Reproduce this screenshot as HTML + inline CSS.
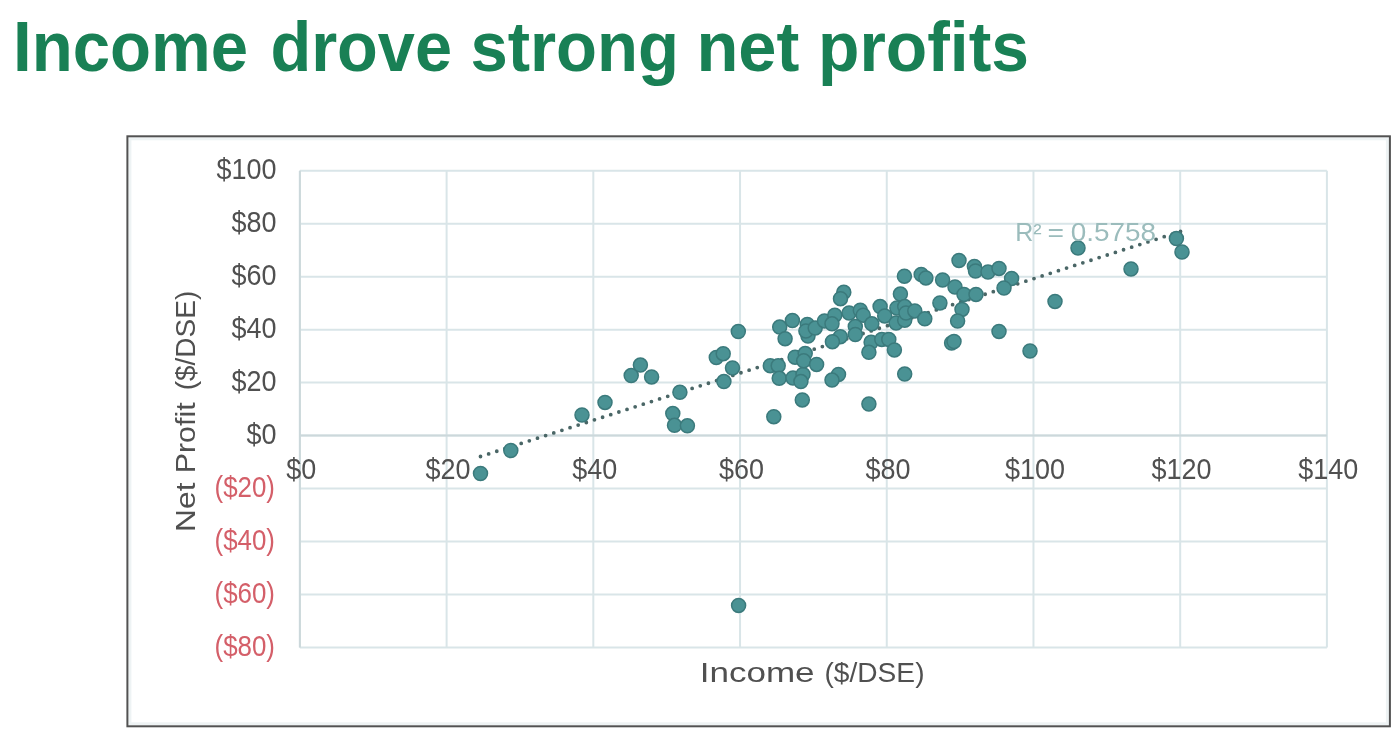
<!DOCTYPE html>
<html lang="en"><head><meta charset="utf-8"><title>Income drove strong net profits</title>
<style>
html,body{margin:0;padding:0;background:#fff;}
body{width:1400px;height:740px;overflow:hidden;font-family:"Liberation Sans",sans-serif;}
svg{display:block;}
text{font-family:"Liberation Sans",sans-serif;}
.t{font-weight:bold;font-size:70px;fill:#198055;}
.tk{font-size:29.2px;fill:#505050;}
.ng{font-size:29.2px;fill:#d45f69;}
.ax{font-size:28.4px;fill:#505050;}
</style></head><body>
<svg width="1400" height="740" viewBox="0 0 1400 740">
<rect x="0" y="0" width="1400" height="740" fill="#ffffff"/>

<g class="t">
<text x="13.0" y="71.3" textLength="235.0" lengthAdjust="spacingAndGlyphs">Income</text>
<text x="270.4" y="71.3" textLength="181.6" lengthAdjust="spacingAndGlyphs">drove</text>
<text x="470.4" y="71.3" textLength="208.6" lengthAdjust="spacingAndGlyphs">strong</text>
<text x="696.4" y="71.3" textLength="103.0" lengthAdjust="spacingAndGlyphs">net</text>
<text x="818.0" y="71.3" textLength="211.0" lengthAdjust="spacingAndGlyphs">profits</text>
</g>
<rect x="129.9" y="138.8" width="1257.5" height="585" fill="none" stroke="#eef3f4" stroke-width="3"/>
<rect x="127.4" y="136.3" width="1262.5" height="590" fill="none" stroke="#525252" stroke-width="2"/>
<g stroke="#d9e5e8" stroke-width="2" fill="none">
<line x1="299.90" y1="170.80" x2="1326.90" y2="170.80"/>
<line x1="299.90" y1="223.76" x2="1326.90" y2="223.76"/>
<line x1="299.90" y1="276.71" x2="1326.90" y2="276.71"/>
<line x1="299.90" y1="329.67" x2="1326.90" y2="329.67"/>
<line x1="299.90" y1="382.62" x2="1326.90" y2="382.62"/>
<line x1="299.90" y1="435.58" x2="1326.90" y2="435.58"/>
<line x1="299.90" y1="488.53" x2="1326.90" y2="488.53"/>
<line x1="299.90" y1="541.49" x2="1326.90" y2="541.49"/>
<line x1="299.90" y1="594.44" x2="1326.90" y2="594.44"/>
<line x1="299.90" y1="647.40" x2="1326.90" y2="647.40"/>
<line x1="299.90" y1="170.80" x2="299.90" y2="647.40"/>
<line x1="446.61" y1="170.80" x2="446.61" y2="647.40"/>
<line x1="593.33" y1="170.80" x2="593.33" y2="647.40"/>
<line x1="740.04" y1="170.80" x2="740.04" y2="647.40"/>
<line x1="886.76" y1="170.80" x2="886.76" y2="647.40"/>
<line x1="1033.47" y1="170.80" x2="1033.47" y2="647.40"/>
<line x1="1180.19" y1="170.80" x2="1180.19" y2="647.40"/>
<line x1="1326.90" y1="170.80" x2="1326.90" y2="647.40"/>
</g>
<g stroke="#ccd8db" stroke-width="2"><line x1="299.90" y1="170.80" x2="299.90" y2="647.40"/><line x1="299.90" y1="435.58" x2="1326.90" y2="435.58"/></g>
<text class="tk" x="216.6" y="179.4" textLength="60.0" lengthAdjust="spacingAndGlyphs">$100</text>
<text class="tk" x="231.6" y="232.4" textLength="45.0" lengthAdjust="spacingAndGlyphs">$80</text>
<text class="tk" x="231.6" y="285.3" textLength="45.0" lengthAdjust="spacingAndGlyphs">$60</text>
<text class="tk" x="231.6" y="338.3" textLength="45.0" lengthAdjust="spacingAndGlyphs">$40</text>
<text class="tk" x="231.6" y="391.2" textLength="45.0" lengthAdjust="spacingAndGlyphs">$20</text>
<text class="tk" x="246.6" y="444.2" textLength="30.0" lengthAdjust="spacingAndGlyphs">$0</text>
<text class="ng" x="214.5" y="497.1" textLength="60.5" lengthAdjust="spacingAndGlyphs">($20)</text>
<text class="ng" x="214.5" y="550.1" textLength="60.5" lengthAdjust="spacingAndGlyphs">($40)</text>
<text class="ng" x="214.5" y="603.0" textLength="60.5" lengthAdjust="spacingAndGlyphs">($60)</text>
<text class="ng" x="214.5" y="656.0" textLength="60.5" lengthAdjust="spacingAndGlyphs">($80)</text>
<text class="tk" x="286.3" y="479.0" textLength="30.0" lengthAdjust="spacingAndGlyphs">$0</text>
<text class="tk" x="425.5" y="479.0" textLength="45.0" lengthAdjust="spacingAndGlyphs">$20</text>
<text class="tk" x="572.2" y="479.0" textLength="45.0" lengthAdjust="spacingAndGlyphs">$40</text>
<text class="tk" x="718.9" y="479.0" textLength="45.0" lengthAdjust="spacingAndGlyphs">$60</text>
<text class="tk" x="865.6" y="479.0" textLength="45.0" lengthAdjust="spacingAndGlyphs">$80</text>
<text class="tk" x="1004.9" y="479.0" textLength="60.0" lengthAdjust="spacingAndGlyphs">$100</text>
<text class="tk" x="1151.6" y="479.0" textLength="60.0" lengthAdjust="spacingAndGlyphs">$120</text>
<text class="tk" x="1298.3" y="479.0" textLength="60.0" lengthAdjust="spacingAndGlyphs">$140</text>
<g class="ax">
<text x="699.8" y="682" textLength="114.8" lengthAdjust="spacingAndGlyphs">Income</text>
<text x="824.5" y="682" textLength="100.0" lengthAdjust="spacingAndGlyphs">($/DSE)</text>
<text transform="translate(195.3,532.0) rotate(-90)" textLength="49.5" lengthAdjust="spacingAndGlyphs">Net</text>
<text transform="translate(195.3,473.3) rotate(-90)" textLength="70.9" lengthAdjust="spacingAndGlyphs">Profit</text>
<text transform="translate(195.3,390.3) rotate(-90)" textLength="99.5" lengthAdjust="spacingAndGlyphs">($/DSE)</text>
</g>
<line x1="480.50" y1="456.50" x2="1180.70" y2="231.39" stroke="#4a6666" stroke-width="3.8" stroke-linecap="round" stroke-dasharray="0 8.55"/>
<g fill="#4a9294" stroke="#3b7a7c" stroke-width="1.5">
<circle cx="480.5" cy="473.5" r="7"/>
<circle cx="510.8" cy="450.5" r="7"/>
<circle cx="582.0" cy="415.0" r="7"/>
<circle cx="605.0" cy="402.4" r="7"/>
<circle cx="631.2" cy="375.6" r="7"/>
<circle cx="640.4" cy="365.1" r="7"/>
<circle cx="651.6" cy="376.9" r="7"/>
<circle cx="679.9" cy="392.3" r="7"/>
<circle cx="672.8" cy="413.6" r="7"/>
<circle cx="674.5" cy="425.3" r="7"/>
<circle cx="687.4" cy="425.8" r="7"/>
<circle cx="716.3" cy="357.5" r="7"/>
<circle cx="723.2" cy="353.7" r="7"/>
<circle cx="732.5" cy="368.0" r="7"/>
<circle cx="723.9" cy="381.6" r="7"/>
<circle cx="738.3" cy="331.5" r="7"/>
<circle cx="773.8" cy="416.7" r="7"/>
<circle cx="770.3" cy="365.7" r="7"/>
<circle cx="778.2" cy="365.7" r="7"/>
<circle cx="779.2" cy="378.3" r="7"/>
<circle cx="793.0" cy="378.0" r="7"/>
<circle cx="803.0" cy="374.4" r="7"/>
<circle cx="800.9" cy="381.6" r="7"/>
<circle cx="795.1" cy="357.2" r="7"/>
<circle cx="805.2" cy="353.6" r="7"/>
<circle cx="803.7" cy="360.8" r="7"/>
<circle cx="816.6" cy="364.4" r="7"/>
<circle cx="838.5" cy="374.4" r="7"/>
<circle cx="832.0" cy="380.1" r="7"/>
<circle cx="802.3" cy="399.9" r="7"/>
<circle cx="868.9" cy="404.1" r="7"/>
<circle cx="904.7" cy="374.1" r="7"/>
<circle cx="779.7" cy="327.1" r="7"/>
<circle cx="792.4" cy="320.5" r="7"/>
<circle cx="785.1" cy="338.7" r="7"/>
<circle cx="807.3" cy="324.5" r="7"/>
<circle cx="808.0" cy="336.0" r="7"/>
<circle cx="805.9" cy="331.0" r="7"/>
<circle cx="815.2" cy="328.1" r="7"/>
<circle cx="824.5" cy="320.9" r="7"/>
<circle cx="834.8" cy="315.2" r="7"/>
<circle cx="832.0" cy="323.8" r="7"/>
<circle cx="843.8" cy="292.3" r="7"/>
<circle cx="840.5" cy="298.7" r="7"/>
<circle cx="849.1" cy="313.0" r="7"/>
<circle cx="860.3" cy="310.2" r="7"/>
<circle cx="863.2" cy="315.2" r="7"/>
<circle cx="855.3" cy="326.6" r="7"/>
<circle cx="855.3" cy="334.5" r="7"/>
<circle cx="840.3" cy="336.7" r="7"/>
<circle cx="832.4" cy="341.7" r="7"/>
<circle cx="871.8" cy="323.8" r="7"/>
<circle cx="880.1" cy="306.6" r="7"/>
<circle cx="884.7" cy="315.9" r="7"/>
<circle cx="900.4" cy="294.1" r="7"/>
<circle cx="896.9" cy="308.0" r="7"/>
<circle cx="904.7" cy="306.6" r="7"/>
<circle cx="896.1" cy="323.1" r="7"/>
<circle cx="904.7" cy="320.2" r="7"/>
<circle cx="906.0" cy="313.0" r="7"/>
<circle cx="914.8" cy="310.9" r="7"/>
<circle cx="924.8" cy="318.8" r="7"/>
<circle cx="904.4" cy="276.2" r="7"/>
<circle cx="921.2" cy="274.4" r="7"/>
<circle cx="925.9" cy="277.9" r="7"/>
<circle cx="942.6" cy="280.0" r="7"/>
<circle cx="939.9" cy="303.0" r="7"/>
<circle cx="871.1" cy="342.3" r="7"/>
<circle cx="868.9" cy="352.3" r="7"/>
<circle cx="881.8" cy="339.4" r="7"/>
<circle cx="888.8" cy="339.4" r="7"/>
<circle cx="894.4" cy="349.9" r="7"/>
<circle cx="951.6" cy="343.0" r="7"/>
<circle cx="954.0" cy="341.5" r="7"/>
<circle cx="959.0" cy="260.4" r="7"/>
<circle cx="974.4" cy="266.4" r="7"/>
<circle cx="975.5" cy="271.0" r="7"/>
<circle cx="988.0" cy="272.0" r="7"/>
<circle cx="999.0" cy="268.4" r="7"/>
<circle cx="1011.6" cy="278.4" r="7"/>
<circle cx="1004.0" cy="288.0" r="7"/>
<circle cx="955.0" cy="287.0" r="7"/>
<circle cx="964.0" cy="294.4" r="7"/>
<circle cx="976.0" cy="294.4" r="7"/>
<circle cx="962.0" cy="309.4" r="7"/>
<circle cx="957.6" cy="321.0" r="7"/>
<circle cx="999.0" cy="331.4" r="7"/>
<circle cx="1030.0" cy="351.0" r="7"/>
<circle cx="1055.0" cy="301.4" r="7"/>
<circle cx="1078.0" cy="248.0" r="7"/>
<circle cx="1131.0" cy="269.0" r="7"/>
<circle cx="1176.4" cy="238.6" r="7"/>
<circle cx="1182.0" cy="252.0" r="7"/>
<circle cx="738.6" cy="605.4" r="7"/>
</g>
<text y="241.3" style="font-size:25.8px;fill:#9bbcbc"><tspan x="1015.2" textLength="26.5" lengthAdjust="spacingAndGlyphs">R²</tspan><tspan x="1047.5" textLength="16.5" lengthAdjust="spacingAndGlyphs">=</tspan><tspan x="1070.8" textLength="85.3" lengthAdjust="spacingAndGlyphs">0.5758</tspan></text>
</svg>
</body></html>
